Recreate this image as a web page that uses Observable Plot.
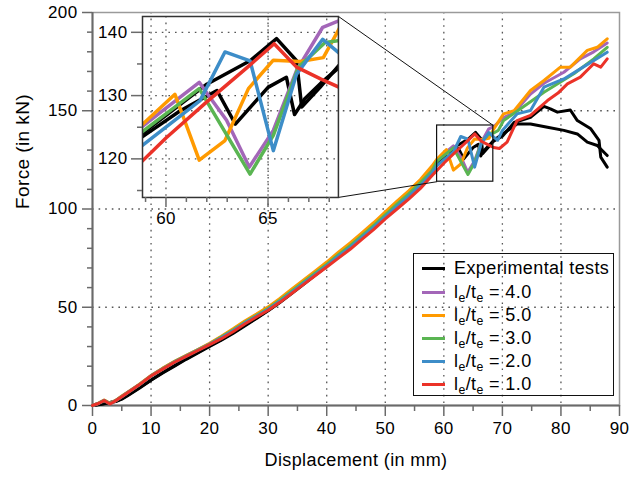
<!DOCTYPE html>
<html><head><meta charset="utf-8">
<script src="https://cdn.jsdelivr.net/npm/d3@7"></script>
<script src="https://cdn.jsdelivr.net/npm/@observablehq/plot@0.6"></script>
<style>
body{margin:0;background:#fff;}
#wrap{position:relative;width:633px;height:477px;font-family:"Liberation Sans",Arial,sans-serif;}
#legend{position:absolute;left:413px;top:253px;width:199px;height:141px;border:1.5px solid #111;box-sizing:content-box;}
.row{position:absolute;left:0;height:23px;display:flex;align-items:center;font-size:18px;letter-spacing:0.4px;color:#000;white-space:nowrap;}
.sw{width:23px;height:3px;margin-left:8px;margin-right:9px;}
.row sub{font-size:0.68em;vertical-align:-0.3em;line-height:0;}
</style></head>
<body><div id="wrap"></div>
<script>
const FONT = '"Liberation Sans", Arial, sans-serif';

// ---- axis ticks ----
const xMajorTicks = [0,10,20,30,40,50,60,70,80,90];
const xMinorTicks = [5,15,25,35,45,55,65,75,85];
const yMajorTicks = [0,50,100,150,200];
const yMinorTicks = [10,20,30,40,60,70,80,90,110,120,130,140,160,170,180,190];
const xGridTicks = [10,20,30,40,50,60,70,80];
const yGridTicks = [50,100,150];
const insetXMajor = [60,65];
const insetXMinor = [59,61,62,63,64,66,67,68];
const insetYMajor = [120,130,140];
const insetYMinor = [115,125,135];

// ---- zoom window & inset placement (data units of main chart) ----
const zoomX = [58.85, 68.45];
const zoomY = [113.9, 142.5];
const insetX = [8.54, 42.0];
const insetY = [105.9, 198.0];

// ---- series data ----
const dispGrid = [0,1,2,3,4,5,6,8,10,12,14,16,18,20,22,24,26,28,30,32,34,36,38,40,42,44,46,48,50,52,54,56,58];

const expA_base = [0,0.5,1,1.5,2,3.2,5,8.8,12.8,16.5,20,23.5,26.8,30,33.2,36.7,40.5,44.3,48.2,52.4,57,61.6,66.2,70.8,75.6,80.1,85.2,90.3,95.7,101.1,106.3,111.8,118];
const expA_tailX = [58.8,60.7,62.5,63.4,65,65.9,66.3,66.8,67.6,68.5,70,72,74.8,77.1,78.2,79.4,81.6,82.8,85.1,86.5,86.8,87.9];
const expA_tailY = [123.4,127.6,130.8,125.5,131.3,132.9,127,129.5,132,134.5,137,144,146.7,152.2,151,149.3,150.4,145,140.8,134.9,126.4,121.3];

const expB_base = [0,0.4,0.9,1.6,2.2,3.4,5.2,9,13,16.8,20.3,23.8,27,30.3,33.5,37,40.8,44.6,48.5,52.7,57.3,61.9,66.5,71.1,75.9,80.4,85.5,90.6,96,101.4,106.6,112.1,118.4];
const expB_tailX = [58.8,62,64.12,65.42,66.4,66.65,67.55,68.53,70,72.5,74.8,77.7,80.5,82.8,84.5,86.2,87.9];
const expB_tailY = [123.9,131.8,135.5,139,135.5,128.2,131.3,135,138,143.3,143.3,141.6,140,138.2,134,132.3,127.2];

const r40_base = [0,1.1,2.7,1,2.6,4.7,6.7,10.7,15.2,18.9,22.4,25.4,28.4,31.5,35,38.7,42.6,46.1,49.7,54,58.6,63.2,67.8,72.3,77.3,81.8,87,92.2,97.6,103.2,108.4,114.2,120.5];
const r40_tailX = [58.8,61.63,62.16,62.97,64.08,65.26,66.4,67.68,68.53,70.2,72,74.8,77.1,80.5,83.3,85.6,87.9];
const r40_tailY = [125,132.1,129.7,126.1,118.7,124.5,134,140.8,141.9,146.5,149,158.5,164,169.6,176.4,180,184.5];

const r50_base = [0,1.2,2.8,1.1,2.7,4.8,6.8,10.8,15.3,19,22.5,25.5,28.5,31.7,35.2,39,43,46.5,50.2,54.5,59.2,63.8,68.4,73,78,82.7,87.8,93,98.5,104,109.2,115,122];
const r50_tailX = [58.8,60.44,61.63,62.89,64.04,65.26,66.57,67.71,68.53,70.2,72,74.8,77.1,79.9,81.6,84.5,86.2,87.9];
const r50_tailY = [125.3,130.2,119.8,122.9,131.1,135.6,135.4,136,140.8,148.4,150,160.3,165.4,172.2,172.2,180.7,182.3,186.6];

const r30_base = [0,1,2.6,1,2.6,4.6,6.6,10.6,15.1,18.8,22.3,25.3,28.3,31.3,34.8,38.4,42.3,45.8,49.4,53.6,58.2,62.7,67.3,71.8,76.8,81.3,86.4,91.6,97,102.5,107.7,113.4,119.5];
const r30_tailX = [58.8,61.63,64.12,65.26,66.49,67.8,68.53,69.3,70.2,73.1,77.1,82.2,85.6,87.9];
const r30_tailY = [124.2,131.1,117.6,123.7,134.5,138.4,138.7,140,145,151,159.4,168.8,176.4,182.3];

const r20_base = [0,1,2.5,0.9,2.5,4.5,6.5,10.5,15,18.6,22.1,25.1,28.1,31.1,34.4,38,41.9,45.4,49,53,57.6,62.1,66.6,71.1,76,80.4,85.5,90.6,96,101.3,106.4,112,118.3];
const r20_tailX = [58.8,61.67,62.89,64.12,65.26,66.4,67.68,68.53,69.2,70,72.5,74.8,77.1,80.5,83.3,87.9];
const r20_tailY = [122,129.2,136.9,135.5,121.3,133.4,138.9,136.6,135,140,148.4,150.1,162,166.2,171.3,179.8];

const r10_base = [0,1,2.5,0.8,2.5,4.5,6.5,10.5,15,18.5,22,25,28,31,34,37.5,41.5,45,48.5,52.5,57,61.5,66,70.5,75,79.5,84.5,89.5,95,100,105,110.5,117];
const r10_tailX = [60,62,64,65.3,66.4,67.6,68.5,69.5,70.8,72.5,74.8,77.7,79.5,81.1,83.3,85.6,86.8,87.9];
const r10_tailY = [123.3,129,134.5,138.2,134.5,132.6,131.3,130.8,134,145,147.6,155.2,159,163.7,167.1,173.9,172.2,176.4];

// ---- legend ----
const legendLabels = ["Experimental tests", "4.0", "5.0", "3.0", "2.0", "1.0"];
const legendColors = ["#000000", "#a366b8", "#ff9a00", "#5ab552", "#3d8dc8", "#eb3228"];

function toRows(baseY, tx, ty) {
  return dispGrid.map((d, i) => ({d, f: baseY[i]})).concat(tx.map((d, i) => ({d, f: ty[i]})));
}
const series = [
  {rows: toRows(expA_base, expA_tailX, expA_tailY), color: legendColors[0]},
  {rows: toRows(expB_base, expB_tailX, expB_tailY), color: legendColors[0]},
  {rows: toRows(r40_base, r40_tailX, r40_tailY), color: legendColors[1]},
  {rows: toRows(r50_base, r50_tailX, r50_tailY), color: legendColors[2]},
  {rows: toRows(r30_base, r30_tailX, r30_tailY), color: legendColors[3]},
  {rows: toRows(r20_base, r20_tailX, r20_tailY), color: legendColors[4]},
  {rows: toRows(r10_base, r10_tailX, r10_tailY), color: legendColors[5]}
];

const AX = "#6a6a6a";
const dotted = {stroke: "#555", strokeOpacity: 1, strokeWidth: 1.3, strokeDasharray: "1.6,5"};

const zoomBox = {x1: zoomX[0], x2: zoomX[1], y1: zoomY[0], y2: zoomY[1]};
const connectors = [
  {x1: insetX[1], y1: insetY[1], x2: zoomX[1], y2: zoomY[1]},
  {x1: insetX[1], y1: insetY[0], x2: zoomX[0], y2: zoomY[0]}
];

const mainPlot = Plot.plot({
  width: 633, height: 477,
  marginLeft: 92, marginRight: 14, marginTop: 12, marginBottom: 72,
  x: {domain: [0, 90], label: null},
  y: {domain: [0, 200], label: null},
  style: {fontFamily: FONT, fontSize: "17px", color: "#000", background: "transparent", letterSpacing: "0.4px"},
  marks: [
    Plot.ruleX(xGridTicks, dotted),
    Plot.ruleY(yGridTicks, dotted),
    Plot.frame({stroke: "#9a9a9a", strokeWidth: 1.5}),
    Plot.ruleX([0], {stroke: AX, strokeWidth: 2}),
    Plot.ruleY([0], {stroke: AX, strokeWidth: 2}),
    Plot.axisX(xMajorTicks, {tickSize: 11, tickPadding: 5, stroke: AX, strokeWidth: 1.5, label: null, tickFormat: d => String(d)}),
    Plot.axisX(xMinorTicks, {tickSize: 6, stroke: AX, strokeWidth: 1.5, label: null, tickFormat: () => ""}),
    Plot.axisY(yMajorTicks, {tickSize: 10, tickPadding: 5, stroke: AX, strokeWidth: 1.5, label: null, tickFormat: d => String(d)}),
    Plot.axisY(yMinorTicks, {tickSize: 5, stroke: AX, strokeWidth: 1.5, label: null, tickFormat: () => ""}),
    ...series.map(s => Plot.line(s.rows, {x: "d", y: "f", stroke: s.color, strokeWidth: 3})),
    Plot.rect([zoomBox], {x1: "x1", x2: "x2", y1: "y1", y2: "y2", fill: "none", stroke: "#111", strokeWidth: 1.2}),
    Plot.link(connectors, {x1: "x1", y1: "y1", x2: "x2", y2: "y2", stroke: "#111", strokeWidth: 1}),
    Plot.text(["Displacement (in mm)"], {text: d => d, frameAnchor: "bottom", dy: 55, fontSize: 18, lineAnchor: "middle"}),
    Plot.text(["Force (in kN)"], {text: d => d, frameAnchor: "left", dx: -70, rotate: -90, fontSize: 19, lineAnchor: "middle"})
  ]
});

const wrap = document.getElementById("wrap");
wrap.appendChild(mainPlot);

// ---- inset ----
const sx = mainPlot.scale("x"), sy = mainPlot.scale("y");
const L = sx.apply(insetX[0]), R = sx.apply(insetX[1]);
const T = sy.apply(insetY[1]), B = sy.apply(insetY[0]);
const iml = 50, imr = 4, imt = 4, imb = 34;
const inset = Plot.plot({
  width: R - L + iml + imr, height: B - T + imt + imb,
  marginLeft: iml, marginRight: imr, marginTop: imt, marginBottom: imb,
  x: {domain: zoomX, label: null},
  y: {domain: zoomY, label: null},
  style: {fontFamily: FONT, fontSize: "17px", color: "#000", background: "transparent", letterSpacing: "0.4px"},
  marks: [
    Plot.ruleX(insetXMajor, dotted),
    Plot.ruleY(insetYMajor, dotted),
    ...series.map(s => Plot.line(s.rows, {x: "d", y: "f", stroke: s.color, strokeWidth: 3.5, clip: true})),
    Plot.frame({stroke: "#333", strokeWidth: 1.5}),
    Plot.axisX(insetXMajor, {tickSize: 10, tickPadding: 4, stroke: AX, strokeWidth: 1.5, label: null, tickFormat: d => String(d)}),
    Plot.axisX(insetXMinor, {tickSize: 5, stroke: AX, strokeWidth: 1.5, label: null, tickFormat: () => ""}),
    Plot.axisY(insetYMajor, {tickSize: 11, tickPadding: 4, stroke: AX, strokeWidth: 1.5, label: null, tickFormat: d => String(d)}),
    Plot.axisY(insetYMinor, {tickSize: 5, stroke: AX, strokeWidth: 1.5, label: null, tickFormat: () => ""})
  ]
});
inset.style.position = "absolute";
inset.style.left = (L - iml) + "px";
inset.style.top = (T - imt) + "px";
wrap.appendChild(inset);

// ---- legend ----
const leg = document.createElement("div");
leg.id = "legend";
const rowCenters = [14, 38, 61, 84, 107, 130];
legendLabels.forEach((lab, i) => {
  const row = document.createElement("div");
  row.className = "row";
  row.style.top = (rowCenters[i] - 11.5) + "px";
  const sw = document.createElement("span");
  sw.className = "sw";
  sw.style.background = legendColors[i];
  row.appendChild(sw);
  const t = document.createElement("span");
  if (i === 0) t.textContent = lab;
  else t.innerHTML = "l<sub>e</sub>/t<sub>e</sub> = " + lab;
  row.appendChild(t);
  leg.appendChild(row);
});
wrap.appendChild(leg);
</script></body></html>
